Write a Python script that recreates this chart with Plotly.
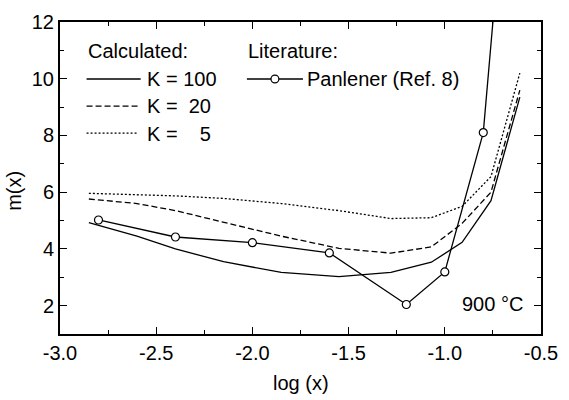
import plotly.graph_objects as go

# ---- data ----
x_calc = [-2.85, -2.6, -2.4, -2.15, -1.85, -1.55, -1.28, -1.07, -0.91, -0.76, -0.61]
m_k100 = [4.93, 4.45, 4.0, 3.55, 3.17, 3.02, 3.17, 3.53, 4.23, 5.7, 9.35]
m_k20 = [5.76, 5.6, 5.35, 4.93, 4.45, 4.02, 3.85, 4.07, 4.9, 6.0, 9.6]
m_k5 = [5.96, 5.92, 5.87, 5.78, 5.6, 5.35, 5.07, 5.1, 5.5, 6.55, 10.2]

x_lit = [-2.8, -2.4, -2.0, -1.6, -1.2, -1.0, -0.8, -0.6]
m_lit = [5.02, 4.42, 4.22, 3.86, 2.04, 3.19, 8.1, 23.7]

x_ticks = [-3.0, -2.5, -2.0, -1.5, -1.0, -0.5]
y_ticks = [2, 4, 6, 8, 10, 12]

FONT = "Liberation Sans, Arial, sans-serif"
FS = 20
W, H = 569, 400
L, R, T, B = 60, 20, 11, 66
pw, ph = W - L - R, H - T - B


def px(x):
    return (x - L) / pw


def py(y):
    return (H - B - y) / ph


fig = go.Figure()
fig.add_trace(go.Scatter(x=x_calc, y=m_k100, mode="lines",
                         line=dict(color="black", width=1.3), showlegend=False))
fig.add_trace(go.Scatter(x=x_calc, y=m_k20, mode="lines",
                         line=dict(color="black", width=1.3, dash="6px,3px"), showlegend=False))
fig.add_trace(go.Scatter(x=x_calc, y=m_k5, mode="lines",
                         line=dict(color="black", width=1.3, dash="2px,2px"), showlegend=False))
fig.add_trace(go.Scatter(x=x_lit, y=m_lit, mode="lines+markers",
                         line=dict(color="black", width=1.3),
                         marker=dict(symbol="circle", size=8, color="white",
                                     line=dict(color="black", width=1.2)),
                         showlegend=False))

shapes = [
    dict(type="line", xref="paper", yref="paper", x0=px(87), x1=px(142), y0=py(70), y1=py(70),
         line=dict(color="black", width=1.3)),
    dict(type="line", xref="paper", yref="paper", x0=px(87), x1=px(139), y0=py(98), y1=py(98),
         line=dict(color="black", width=1.3, dash="6px,3px")),
    dict(type="line", xref="paper", yref="paper", x0=px(87), x1=px(139), y0=py(126), y1=py(126),
         line=dict(color="black", width=1.3, dash="2px,2px")),
    dict(type="line", xref="paper", yref="paper", x0=px(250), x1=px(307), y0=py(70), y1=py(70),
         line=dict(color="black", width=1.3)),
    dict(type="circle", xref="paper", yref="paper", x0=px(274.5), x1=px(282.5), y0=py(66), y1=py(74),
         fillcolor="white", line=dict(color="black", width=1.2)),
]

ann_font = dict(family=FONT, size=FS, color="black")
annotations = [
    dict(text="Calculated:", x=px(86), y=py(41), xanchor="left", yanchor="middle"),
    dict(text="Literature:", x=px(249), y=py(41), xanchor="left", yanchor="middle"),
    dict(text="K = 100", x=px(146), y=py(70), xanchor="left", yanchor="middle"),
    dict(text="K =\u00a0\u00a020", x=px(146), y=py(98), xanchor="left", yanchor="middle"),
    dict(text="K =\u00a0\u00a0\u00a0\u00a05", x=px(146), y=py(127), xanchor="left", yanchor="middle"),
    dict(text="Panlener (Ref. 8)", x=px(309), y=py(70), xanchor="left", yanchor="middle"),
    dict(text="900 °C", x=px(533), y=py(303), xanchor="right", yanchor="middle"),
    dict(text="log (x)", x=px(305), y=py(385), xanchor="center", yanchor="middle"),
    dict(text="m(x)", x=px(13), y=py(186), xanchor="center", yanchor="middle", textangle=-90),
]
for a in annotations:
    a.update(xref="paper", yref="paper", showarrow=False, font=ann_font)

fig.update_layout(
    width=W, height=H,
    margin=dict(l=L, r=R, t=T, b=B),
    paper_bgcolor="white", plot_bgcolor="white",
    font=dict(family=FONT, size=FS, color="black"),
    shapes=shapes, annotations=annotations,
    showlegend=False,
)
fig.update_xaxes(
    range=[-3.0, -0.5], tickvals=x_ticks, ticktext=[f"{v:.1f}" for v in x_ticks],
    ticks="inside", ticklen=7, tickwidth=1.2, tickcolor="black",
    minor=dict(dtick=0.25, tick0=-3.0, ticks="inside", ticklen=4, tickwidth=1.2, tickcolor="black"),
    showline=True, linecolor="black", linewidth=2, mirror="allticks",
    showgrid=False, zeroline=False,
)
fig.update_yaxes(
    range=[1, 12], tickvals=y_ticks,
    ticks="inside", ticklen=7, tickwidth=1.2, tickcolor="black",
    minor=dict(dtick=1, tick0=0, ticks="inside", ticklen=4, tickwidth=1.2, tickcolor="black"),
    showline=True, linecolor="black", linewidth=2, mirror="allticks",
    showgrid=False, zeroline=False,
)

fig.write_html("out.html")
